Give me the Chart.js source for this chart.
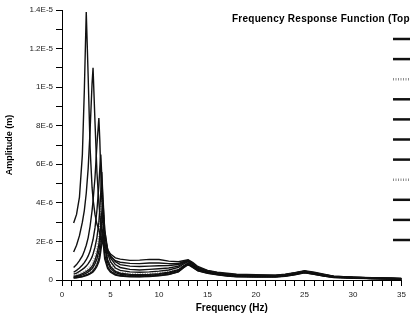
<!DOCTYPE html>
<html>
<head>
<meta charset="utf-8">
<script src="https://cdn.jsdelivr.net/npm/chart.js@4.4.1/dist/chart.umd.min.js"></script>
<style>
  html, body { margin: 0; padding: 0; background: #fff; overflow: hidden; }
  #frf { display: block; }
</style>
</head>
<body>
<canvas id="frf" width="410" height="318"></canvas>
<script>
// frequency grid (Hz)
const freqHz = [1.2, 1.5, 1.8, 2.1, 2.3, 2.5, 2.7, 2.9, 3.1, 3.2, 3.4, 3.6, 3.8, 3.9, 4.0, 4.1, 4.2, 4.4, 4.7, 5.0,
  5.5, 6, 7, 8, 9, 10, 11, 12, 12.5, 13, 13.5, 14,
  15, 16, 17, 18, 20, 22, 23, 24, 25, 26, 27, 28, 30, 32, 34, 35];

// amplitudes, in micrometres
const amp1 = [2.96, 3.4, 4.3, 6.5, 9.8, 13.9, 10.5, 6.8, 4.8, 4.2, 3.4, 2.9, 2.6, 2.4, 2.3, 2.1, 2.0, 1.8, 1.55, 1.35,
  1.15, 1.08, 1.02, 1.03, 1.07, 1.06, 0.98, 0.95, 1.0, 1.05, 0.9, 0.7,
  0.5, 0.4, 0.35, 0.3, 0.28, 0.25, 0.3, 0.38, 0.48, 0.4, 0.3, 0.2, 0.15, 0.12, 0.1, 0.08];
const amp2 = [1.45, 1.8, 2.3, 3.0, 3.6, 4.5, 5.8, 7.8, 10.2, 11.0, 8.2, 5.6, 4.0, 3.4, 2.9, 2.5, 2.2, 1.85, 1.45, 1.22,
  1.0, 0.92, 0.86, 0.85, 0.88, 0.88, 0.85, 0.85, 0.95, 1.02, 0.85, 0.65,
  0.48, 0.38, 0.32, 0.28, 0.25, 0.24, 0.28, 0.37, 0.46, 0.38, 0.28, 0.2, 0.14, 0.11, 0.09, 0.08];
const amp3 = [0.22, 0.27, 0.33, 0.4, 0.46, 0.53, 0.62, 0.73, 0.88, 0.98, 1.25, 1.65, 2.3, 2.9, 3.7, 4.8, 4.1, 2.3, 1.2, 0.8,
  0.5, 0.4, 0.34, 0.32, 0.34, 0.38, 0.45, 0.58, 0.76, 0.9, 0.75, 0.56,
  0.4, 0.32, 0.26, 0.22, 0.2, 0.2, 0.24, 0.32, 0.42, 0.34, 0.24, 0.16, 0.12, 0.09, 0.07, 0.05];
const amp4 = [0.65, 0.8, 1.0, 1.25, 1.5, 1.8, 2.2, 2.8, 3.6, 4.1, 5.3, 7.0, 8.4, 7.2, 5.5, 4.2, 3.3, 2.3, 1.6, 1.25,
  0.95, 0.8, 0.72, 0.7, 0.72, 0.74, 0.75, 0.8, 0.92, 1.0, 0.82, 0.62,
  0.45, 0.36, 0.3, 0.26, 0.24, 0.23, 0.27, 0.36, 0.45, 0.37, 0.27, 0.19, 0.14, 0.1, 0.08, 0.07];
const amp5 = [0.4, 0.5, 0.62, 0.78, 0.9, 1.05, 1.25, 1.5, 1.9, 2.1, 2.7, 3.6, 4.9, 5.8, 6.5, 5.4, 4.2, 2.6, 1.6, 1.15,
  0.8, 0.65, 0.55, 0.52, 0.55, 0.58, 0.62, 0.72, 0.88, 0.98, 0.8, 0.6,
  0.44, 0.34, 0.28, 0.25, 0.22, 0.22, 0.26, 0.34, 0.44, 0.36, 0.26, 0.18, 0.13, 0.1, 0.08, 0.06];
const amp6 = [0.3, 0.36, 0.45, 0.55, 0.63, 0.72, 0.85, 1.0, 1.2, 1.35, 1.7, 2.2, 3.0, 3.7, 4.6, 5.6, 4.5, 2.6, 1.4, 0.95,
  0.62, 0.5, 0.42, 0.4, 0.42, 0.46, 0.52, 0.65, 0.82, 0.95, 0.78, 0.58,
  0.42, 0.33, 0.27, 0.23, 0.21, 0.21, 0.25, 0.33, 0.43, 0.35, 0.25, 0.17, 0.12, 0.09, 0.07, 0.06];
const amp7 = [0.18, 0.22, 0.27, 0.33, 0.38, 0.44, 0.51, 0.6, 0.72, 0.8, 1.02, 1.35, 1.85, 2.3, 2.9, 3.5, 4.0, 2.0, 1.05, 0.7,
  0.44, 0.35, 0.29, 0.27, 0.29, 0.33, 0.4, 0.53, 0.72, 0.88, 0.72, 0.54,
  0.39, 0.31, 0.25, 0.21, 0.19, 0.19, 0.23, 0.31, 0.41, 0.33, 0.23, 0.16, 0.11, 0.08, 0.06, 0.05];
const amp8 = [0.13, 0.15, 0.18, 0.22, 0.26, 0.3, 0.35, 0.42, 0.5, 0.56, 0.72, 0.95, 1.3, 1.6, 2.1, 2.6, 3.0, 1.5, 0.8, 0.52,
  0.33, 0.26, 0.21, 0.2, 0.22, 0.26, 0.33, 0.47, 0.67, 0.84, 0.68, 0.5,
  0.37, 0.29, 0.23, 0.19, 0.17, 0.17, 0.21, 0.29, 0.39, 0.31, 0.21, 0.14, 0.1, 0.07, 0.05, 0.04];
const amp9 = [0.15, 0.18, 0.22, 0.27, 0.31, 0.36, 0.42, 0.5, 0.6, 0.67, 0.85, 1.1, 1.5, 1.85, 2.4, 3.0, 3.4, 1.7, 0.9, 0.6,
  0.38, 0.3, 0.25, 0.23, 0.25, 0.29, 0.36, 0.5, 0.7, 0.86, 0.7, 0.52,
  0.38, 0.3, 0.24, 0.2, 0.18, 0.18, 0.22, 0.3, 0.4, 0.32, 0.22, 0.15, 0.11, 0.08, 0.06, 0.04];
const amp10 = [0.11, 0.13, 0.16, 0.19, 0.22, 0.26, 0.3, 0.36, 0.43, 0.48, 0.62, 0.8, 1.1, 1.35, 1.8, 2.2, 2.6, 1.3, 0.7, 0.46,
  0.29, 0.23, 0.19, 0.18, 0.2, 0.24, 0.3, 0.44, 0.64, 0.82, 0.66, 0.49,
  0.36, 0.28, 0.22, 0.18, 0.16, 0.16, 0.2, 0.28, 0.38, 0.3, 0.2, 0.14, 0.1, 0.07, 0.05, 0.04];
const amp11 = [0.1, 0.12, 0.14, 0.17, 0.2, 0.23, 0.27, 0.32, 0.38, 0.42, 0.54, 0.7, 0.95, 1.15, 1.5, 1.85, 2.2, 1.1, 0.6, 0.4,
  0.26, 0.2, 0.17, 0.16, 0.18, 0.22, 0.28, 0.42, 0.62, 0.8, 0.64, 0.48,
  0.35, 0.27, 0.21, 0.17, 0.15, 0.15, 0.19, 0.27, 0.37, 0.29, 0.2, 0.13, 0.09, 0.07, 0.05, 0.03];

const seriesNames = ['Test 1', 'Test 2', 'Test 3', 'Test 4', 'Test 5', 'Test 6',
  'Test 7', 'Test 8', 'Test 9', 'Test 10', 'Test 11'];
const seriesAmps = [amp1, amp2, amp3, amp4, amp5, amp6, amp7, amp8, amp9, amp10, amp11];
const dottedSeries = [2, 7];

const yTickLabels = ['0', '2E-6', '4E-6', '6E-6', '8E-6', '1E-5', '1.2E-5', '1.4E-5'];
const xTickLabels = ['0', '5', '10', '15', '20', '25', '30', '35'];

const MICRO = 1e-6;

const datasets = seriesAmps.map((amps, i) => {
  const dotted = dottedSeries.includes(i);
  return {
    label: seriesNames[i],
    data: freqHz.map((f, j) => ({ x: f, y: amps[j] * MICRO })),
    borderColor: dotted ? 'rgba(0,0,0,0.45)' : '#111',
    borderWidth: dotted ? 1.2 : 1.4,
    borderDash: dotted ? [1, 1.5] : [],
    pointRadius: 0,
    tension: 0,
    fill: false
  };
});

// title + legend box drawn the way the original plot placed them (partly off the page)
const frameText = {
  id: 'frameText',
  afterDraw(chart) {
    const ctx = chart.ctx;
    ctx.save();
    ctx.fillStyle = '#000';
    ctx.font = 'bold 10px "Liberation Sans", Arial, sans-serif';
    ctx.letterSpacing = '0.25px';
    ctx.textBaseline = 'middle';
    ctx.textAlign = 'left';
    ctx.fillText('Frequency Response Function (Top Floor)', 232, 19);
    ctx.letterSpacing = '0px';

    chart.data.datasets.forEach((ds, i) => {
      const y = 39 + i * 20.1;
      ctx.strokeStyle = ds.borderColor;
      ctx.lineWidth = 2.5;
      ctx.setLineDash(ds.borderDash);
      ctx.beginPath();
      ctx.moveTo(393, y);
      ctx.lineTo(425, y);
      ctx.stroke();
      ctx.setLineDash([]);
      ctx.font = '9px "Liberation Sans", Arial, sans-serif';
      ctx.fillText(ds.label, 430, y);
    });
    ctx.restore();
  }
};

new Chart(document.getElementById('frf'), {
  type: 'line',
  data: { datasets },
  options: {
    responsive: false,
    animation: false,
    layout: { padding: { top: 10, right: 2, left: 0, bottom: 0 } },
    plugins: {
      legend: { display: false },
      tooltip: { enabled: false }
    },
    scales: {
      x: {
        type: 'linear',
        min: 0,
        max: 35,
        afterFit: (s) => { s.height = 38; },
        border: { color: '#000', width: 1 },
        grid: { drawOnChartArea: false, tickLength: 6, tickColor: '#000' },
        ticks: {
          stepSize: 1,
          autoSkip: false,
          maxRotation: 0,
          padding: 4,
          color: '#222',
          font: { family: '"Liberation Sans", Arial, sans-serif', size: 8 },
          callback: (v) => (Math.round(v) % 5 === 0 ? xTickLabels[Math.round(v) / 5] : '')
        },
        title: {
          display: true,
          text: 'Frequency (Hz)',
          color: '#000',
          padding: { top: 0, bottom: 4 },
          font: { family: '"Liberation Sans", Arial, sans-serif', size: 10, weight: 'bold' }
        }
      },
      y: {
        min: 0,
        max: 1.4e-5,
        afterFit: (s) => { s.width = 62; },
        border: { color: '#000', width: 1 },
        grid: { drawOnChartArea: false, tickLength: 6, tickColor: '#000' },
        ticks: {
          stepSize: 1e-6,
          autoSkip: false,
          padding: 3,
          color: '#222',
          font: { family: '"Liberation Sans", Arial, sans-serif', size: 8 },
          callback: (v) => {
            const n = Math.round(v / MICRO);
            return n % 2 === 0 ? yTickLabels[n / 2] : '';
          }
        },
        title: {
          display: true,
          text: 'Amplitude (m)',
          color: '#000',
          padding: { top: 4, bottom: 0 },
          font: { family: '"Liberation Sans", Arial, sans-serif', size: 9, weight: 'bold' }
        }
      }
    }
  },
  plugins: [frameText]
});
</script>
</body>
</html>
